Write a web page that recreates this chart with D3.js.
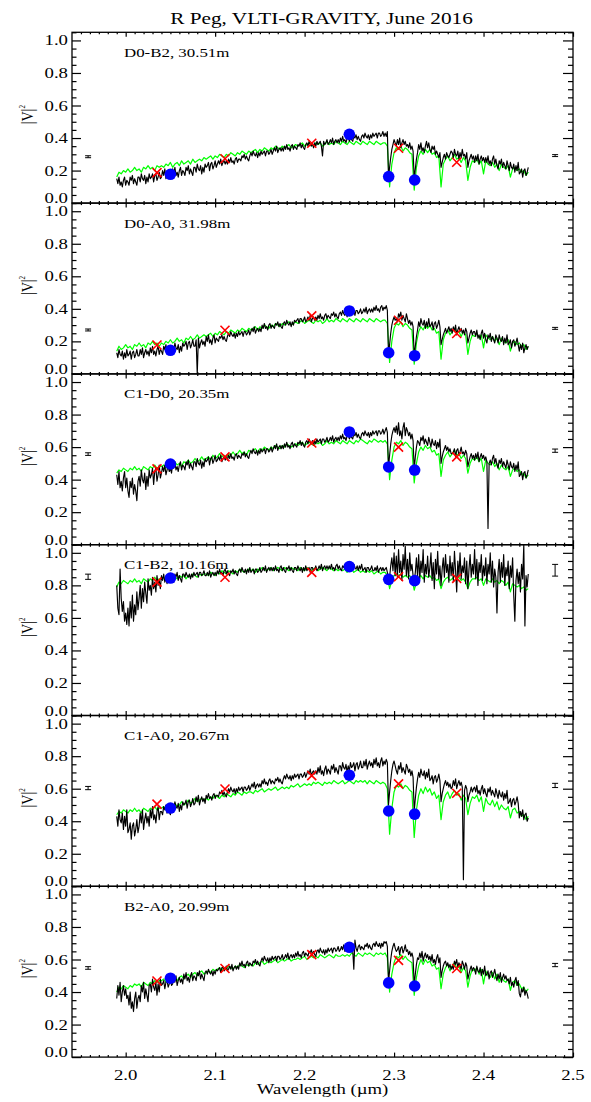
<!DOCTYPE html>
<html><head><meta charset="utf-8">
<script src="https://cdn.jsdelivr.net/npm/d3@7"></script>
<style>
body{margin:0;background:#fff;}
text{font-family:"Liberation Serif","DejaVu Serif",serif;fill:#000;}
</style></head><body>
<svg id="chart" width="591" height="1102"></svg>
<script>
// ---------------- DATA ----------------
const chartTitle = "R Peg, VLTI-GRAVITY, June 2016";
const xAxisTitle = "Wavelength (\u00B5m)";
const baselineLabels = ["D0-B2, 30.51m","D0-A0, 31.98m","C1-D0, 20.35m","C1-B2, 10.16m","C1-A0, 20.67m","B2-A0, 20.99m"];
const xTickLabels = [2.0, 2.1, 2.2, 2.3, 2.4, 2.5];
const yTickLabels = [0.0, 0.2, 0.4, 0.6, 0.8, 1.0];
// sampling grids of the spectra (micron)
const obsWlStart = 1.99, obsWlStep = 0.00125;   // observed spectra
const modWlStart = 1.99, modWlStep = 0.0025;    // model spectra

// observed |V|^2 spectra (black), in percent
const obsPctD0B2 = [
15,12,16,11,13,10,14,16,11,14, 13,11,16,14,17,12,15,13,11,16, 16,13,18,15,14,17,12,16,13,18, 15,16,18,13,17,18,14,16,19,15,
16,20,17,21,15,18,20,17,19,16, 21,18,22,17,19,16,20,22,17,20, 19,17,22,20,23,18,21,19,17,22, 22,19,24,21,20,23,18,22,19,24,
22,23,25,20,24,25,21,23,26,22, 24,26,24,27,23,25,26,24,26,24, 27,25,28,25,26,24,27,28,25,27, 27,26,29,28,30,27,29,27,26,29,
31,29,32,30,29,31,28,31,29,32, 30,31,32,29,32,32,30,31,33,30, 32,34,32,35,31,33,34,32,34,32, 35,33,36,33,34,32,35,36,33,35,
34,33,36,35,37,34,36,34,33,36, 37,35,38,36,35,37,34,37,35,38, 36,37,38,35,29,38,36,37,39,36, 37,39,37,40,36,38,39,37,39,37,
40,38,41,38,39,37,40,41,38,40, 39,38,41,40,42,39,41,39,38,41, 42,40,43,41,40,42,39,42,40,43, 41,42,43,40,43,43,41,42,44,41,
43,41,44,16,22,28,33,36,39,37, 35,39,36,40,34,37,39,36,38,35, 36,34,37,33,35,32,15,21,27,31, 36,33,37,32,34,31,35,38,34,37,
33,31,35,33,35,30,32,30,28,31, 22,25,28,30,27,31,29,28,30,32, 31,28,33,30,29,32,27,31,28,33, 29,30,27,31,22,26,28,30,27,29,
25,29,26,30,24,27,29,26,28,25, 28,25,29,24,26,23,27,29,24,27, 23,21,26,24,27,22,25,23,21,26, 23,20,25,22,21,24,19,23,20,25,
18,19,21,16,20,21,17,19,22];
const obsPctD0A0 = [
13,10,15,12,11,14,9,13,10,15, 11,12,14,9,13,14,10,12,15,11, 11,15,12,16,10,13,15,12,14,11, 16,13,17,12,14,11,15,17,12,15,
14,12,17,15,18,13,16,14,12,17, 17,14,19,16,15,18,13,17,14,19, 17,18,20,15,19,20,16,18,21,17, 17,21,0,22,16,19,21,18,20,17,
23,20,24,19,21,18,22,24,19,22, 21,20,23,22,24,21,23,21,20,23, 25,23,26,24,23,25,22,25,23,26, 24,25,26,23,26,26,24,25,27,24,
26,28,26,29,25,27,28,26,28,26, 30,28,31,28,29,27,30,31,28,30, 29,28,31,30,32,29,31,29,28,31, 32,30,33,31,30,32,29,32,30,33,
32,33,34,31,34,34,32,33,35,32, 33,35,33,36,32,34,35,33,35,33, 36,34,37,34,35,33,36,37,34,36, 35,34,37,36,38,35,37,35,34,37,
38,36,39,37,36,38,35,38,36,39, 37,38,39,36,39,39,37,38,40,37, 38,40,38,41,37,39,40,38,40,38, 41,39,42,39,40,38,41,42,39,41,
40,42,39,12,18,25,30,33,35,33, 34,32,37,35,38,33,36,34,32,37, 34,31,33,30,32,29,11,17,23,27, 32,29,34,31,30,33,28,32,29,34,
29,30,32,27,31,32,28,30,33,29, 18,21,24,26,28,25,27,29,26,28, 25,29,26,30,24,27,29,26,28,25, 27,24,28,26,19,22,25,27,24,26,
26,23,27,22,24,21,25,27,22,25, 21,19,24,22,25,20,23,21,19,24, 22,19,24,21,20,23,18,22,19,24, 18,19,21,16,20,21,17,19,22,18,
14,18,15,19,13,16,18,15,17];
const obsPctC1D0 = [
43,37,45,35,39,33,41,45,35,41, 33,29,39,35,41,31,37,33,27,39, 42,36,46,40,38,44,34,42,36,46, 41,43,47,37,45,47,39,43,49,41,
44,48,45,49,43,46,48,45,47,44, 50,47,51,46,48,45,49,51,46,49, 48,46,51,49,52,47,50,48,46,51, 51,48,53,50,49,52,47,51,48,53,
51,52,54,49,53,54,50,52,55,51, 52,54,52,55,51,53,54,52,54,52, 55,53,56,53,54,52,55,56,53,55, 54,53,56,55,57,54,56,54,53,56,
58,56,59,57,56,58,55,58,56,59, 57,58,59,56,59,59,57,58,60,57, 59,61,59,62,58,60,61,59,61,59, 62,60,63,60,61,59,62,63,60,62,
61,60,63,62,64,61,63,61,60,63, 64,62,65,63,62,64,61,64,62,65, 63,64,65,62,65,65,63,64,66,63, 64,66,64,67,63,65,66,64,66,64,
67,65,68,65,66,64,67,68,65,67, 66,65,68,67,69,66,68,66,65,68, 69,67,70,68,67,69,66,69,67,70, 68,69,70,67,70,70,68,69,71,68,
70,72,69,47,55,62,67,70,72,69, 73,68,75,67,70,65,72,75,67,72, 70,67,69,65,68,64,46,54,60,64, 63,61,66,64,67,62,65,63,61,66,
63,60,65,62,61,64,59,63,60,65, 50,54,57,59,61,58,60,57,59,56, 56,57,59,54,58,59,55,57,60,56, 57,55,58,56,48,51,54,56,53,55,
52,56,53,57,51,54,56,53,55,52, 54,51,10,50,52,49,53,55,50,53, 49,47,52,50,53,48,51,49,47,52, 49,46,51,48,47,50,45,49,46,51,
42,43,45,40,44,45,41,43,46];
const obsPctC1B2 = [
80,66,62,90,72,64,70,58,63,56, 66,55,70,60,74,58,68,62,76,65, 72,80,66,78,70,82,75,69,84,77, 80,74,85,78,82,76,86,80,83,78,
86,83,87,82,84,81,85,87,82,85, 84,82,87,85,88,83,86,84,82,87, 87,85,88,86,85,87,84,87,85,88, 86,87,88,85,88,88,86,87,89,86,
86,88,86,89,85,87,88,86,88,86, 89,87,90,87,88,86,89,90,87,89, 87,86,89,88,90,87,89,87,86,89, 90,88,91,89,88,90,87,90,88,91,
88,89,90,87,90,90,88,89,91,88, 89,91,89,92,88,90,91,89,91,89, 91,89,92,89,90,88,91,92,89,91, 89,88,91,90,92,89,91,89,88,91,
91,89,92,90,89,91,88,91,89,92, 89,90,91,88,91,91,89,90,92,89, 90,92,90,93,89,91,92,90,92,90, 92,90,93,90,91,89,92,93,90,92,
90,89,92,91,93,90,92,90,89,92, 92,90,93,91,90,92,89,92,90,93, 89,90,91,88,91,91,89,90,92,89, 89,91,89,92,88,90,91,89,91,89,
90,91,88,82,85,92,97,89,100,86, 98,85,102,88,95,83,99,90,104,86, 96,84,100,89,93,86,82,88,97,85, 99,84,95,88,102,82,93,87,98,85,
91,100,83,94,78,96,87,101,84,92, 80,90,97,85,99,88,93,82,98,86, 94,83,101,89,76,95,86,100,84,92, 88,97,81,95,78,90,99,85,93,87,
102,84,96,80,94,88,99,83,92,86, 97,81,93,87,100,82,95,79,90,85, 63,88,96,82,94,85,99,80,91,86, 95,78,92,85,97,74,58,83,90,81,
88,76,93,84,105,55,86,79,87];
const obsPctC1A0 = [
43,37,47,41,39,45,35,43,37,47, 33,35,39,29,37,39,31,35,41,33, 37,45,39,47,35,41,45,39,43,37, 47,42,49,41,44,39,46,49,41,46,
46,44,49,47,50,45,48,46,44,49, 50,47,52,49,48,51,46,50,47,52, 50,51,53,48,52,53,49,51,54,50, 51,55,52,56,50,53,55,52,54,51,
56,54,57,54,55,53,56,57,54,56, 56,55,58,57,59,56,58,56,55,58, 60,58,61,59,58,60,57,60,58,61, 59,60,61,58,61,61,59,60,62,59,
61,63,61,64,60,62,63,61,63,61, 65,63,66,63,64,62,65,66,63,65, 64,63,66,65,67,64,66,64,63,66, 68,66,69,67,66,68,65,68,66,69,
67,68,69,66,69,69,67,68,70,67, 69,71,69,72,68,70,71,69,71,69, 73,70,74,69,71,68,72,74,69,72, 71,69,74,72,75,70,73,71,69,74,
74,71,76,73,72,75,70,74,71,76, 73,74,76,71,75,76,72,74,77,73, 73,77,74,78,72,75,77,74,76,73, 78,75,79,74,76,73,77,79,74,77,
75,78,76,50,58,65,71,75,77,74, 71,69,74,72,76,70,73,71,69,75, 73,70,72,68,71,67,46,54,61,66, 70,67,72,69,68,71,66,70,67,72,
65,66,68,63,67,68,64,66,69,65, 52,57,60,63,65,62,64,61,63,60, 61,65,62,66,60,63,65,62,64,61, 4,59,62,60,52,56,58,61,58,60,
61,58,62,57,59,56,60,62,57,60, 57,55,60,58,61,56,59,57,55,60, 57,54,59,56,55,58,53,57,54,59, 51,52,54,49,53,54,50,52,55,51,
42,46,43,47,41,44,45,40,42];
const obsPctB2A0 = [
36,44,38,46,34,40,44,38,42,36, 38,32,40,30,34,28,36,40,30,36, 38,34,44,40,46,36,42,38,34,44, 45,40,48,43,41,46,38,45,40,48,
44,45,47,42,46,47,43,45,48,44, 45,49,46,50,44,47,49,46,48,45, 51,48,52,47,49,46,50,52,47,50, 49,47,52,50,53,48,51,49,47,52,
53,51,54,52,51,53,50,53,51,54, 53,54,55,52,55,55,53,54,56,53, 54,56,54,57,53,55,56,54,56,54, 58,56,59,56,57,55,58,59,56,58,
57,56,59,58,60,57,59,57,56,59, 61,59,62,60,59,61,58,61,59,62, 60,61,62,59,62,62,60,61,63,60, 61,63,61,64,60,62,63,61,63,61,
64,62,65,62,63,61,64,65,62,64, 63,62,65,64,66,63,65,63,62,65, 66,64,67,65,64,66,63,66,64,67, 65,66,67,64,67,67,65,66,68,65,
66,68,66,69,65,67,68,66,68,66, 68,66,54,72,67,65,68,69,66,68, 67,66,69,68,70,67,69,67,66,69, 70,68,71,69,68,70,67,70,68,71,
70,71,68,46,53,60,65,68,70,67, 65,66,68,63,67,68,64,66,69,65, 66,63,65,62,64,61,44,51,57,61, 60,64,61,65,59,62,64,61,63,60,
62,59,63,58,60,57,61,63,58,61, 49,53,56,58,59,56,58,55,57,54, 56,54,59,57,60,55,58,56,54,59, 57,54,58,56,48,51,54,56,53,55,
54,51,56,53,52,55,50,54,51,56, 50,51,53,48,52,53,49,51,54,50, 47,51,48,52,46,49,51,48,50,47, 48,45,49,44,46,43,47,49,44,47,
39,37,42,40,43,38,41,39,36];

// model |V|^2 spectra (green)
const modD0B2 = [
0.16,0.19,0.18,0.20,0.19,0.21,0.19,0.20,0.22,0.20,0.21,0.19,0.22,0.21,0.23,0.21,0.22,0.20,0.23,0.22,
0.23,0.22,0.24,0.23,0.25,0.22,0.24,0.25,0.23,0.26,0.24,0.25,0.26,0.24,0.27,0.25,0.26,0.27,0.26,0.28,
0.27,0.28,0.29,0.27,0.29,0.28,0.30,0.29,0.28,0.30,0.29,0.31,0.30,0.29,0.31,0.30,0.32,0.31,0.30,0.32,
0.31,0.32,0.33,0.31,0.33,0.32,0.34,0.33,0.32,0.34,0.33,0.35,0.34,0.33,0.35,0.34,0.35,0.36,0.34,0.35,
0.36,0.35,0.36,0.37,0.35,0.36,0.37,0.36,0.35,0.37,0.36,0.37,0.35,0.36,0.38,0.36,0.37,0.36,0.38,0.37,
0.36,0.38,0.37,0.36,0.38,0.37,0.36,0.38,0.37,0.36,0.38,0.37,0.36,0.38,0.37,0.36,0.38,0.37,0.36,0.37,
0.37,0.35,0.10,0.24,0.31,0.34,0.33,0.35,0.32,0.34,0.33,0.31,0.30,0.08,0.22,0.29,0.32,0.30,0.33,0.31,
0.33,0.30,0.31,0.28,0.29,0.10,0.24,0.27,0.29,0.26,0.28,0.30,0.27,0.28,0.25,0.28,0.26,0.14,0.22,0.26,
0.25,0.27,0.24,0.26,0.18,0.26,0.24,0.23,0.25,0.22,0.24,0.20,0.24,0.22,0.21,0.23,0.16,0.21,0.22,0.20,
0.21,0.19,0.20,0.17,0.19];
const modD0A0 = [
0.14,0.17,0.15,0.16,0.18,0.16,0.17,0.15,0.18,0.17,0.19,0.17,0.18,0.16,0.19,0.18,0.20,0.18,0.19,0.17,
0.19,0.18,0.20,0.19,0.21,0.19,0.20,0.22,0.20,0.21,0.19,0.22,0.21,0.23,0.21,0.22,0.24,0.22,0.23,0.24,
0.23,0.24,0.25,0.23,0.25,0.24,0.26,0.25,0.24,0.26,0.25,0.27,0.26,0.25,0.27,0.26,0.28,0.27,0.26,0.28,
0.27,0.28,0.29,0.27,0.29,0.28,0.30,0.29,0.28,0.30,0.29,0.31,0.30,0.29,0.31,0.30,0.31,0.32,0.30,0.31,
0.32,0.31,0.32,0.33,0.31,0.32,0.33,0.32,0.31,0.33,0.32,0.33,0.31,0.32,0.34,0.32,0.33,0.32,0.34,0.33,
0.32,0.34,0.33,0.32,0.34,0.33,0.32,0.34,0.33,0.32,0.34,0.33,0.32,0.34,0.33,0.32,0.34,0.33,0.32,0.33,
0.33,0.31,0.07,0.20,0.28,0.31,0.30,0.32,0.29,0.31,0.30,0.28,0.27,0.06,0.19,0.26,0.29,0.27,0.30,0.28,
0.30,0.27,0.28,0.25,0.26,0.09,0.21,0.25,0.27,0.24,0.26,0.28,0.25,0.26,0.23,0.26,0.24,0.12,0.20,0.24,
0.23,0.25,0.22,0.24,0.16,0.24,0.22,0.21,0.23,0.20,0.22,0.18,0.22,0.20,0.19,0.21,0.14,0.19,0.20,0.18,
0.19,0.17,0.18,0.15,0.17];
const modC1D0 = [
0.44,0.46,0.45,0.47,0.46,0.45,0.47,0.46,0.48,0.46,0.47,0.45,0.48,0.47,0.46,0.48,0.47,0.49,0.47,0.48,
0.48,0.49,0.47,0.50,0.48,0.49,0.51,0.49,0.50,0.48,0.51,0.50,0.52,0.50,0.51,0.53,0.51,0.52,0.54,0.52,
0.53,0.54,0.52,0.55,0.53,0.54,0.56,0.54,0.55,0.53,0.56,0.55,0.57,0.55,0.56,0.58,0.56,0.57,0.55,0.58,
0.57,0.58,0.59,0.57,0.59,0.58,0.60,0.59,0.58,0.60,0.59,0.61,0.60,0.59,0.61,0.60,0.62,0.61,0.60,0.61,
0.62,0.61,0.62,0.63,0.61,0.62,0.63,0.62,0.61,0.63,0.62,0.63,0.61,0.62,0.64,0.62,0.63,0.62,0.64,0.63,
0.62,0.64,0.63,0.62,0.64,0.63,0.62,0.64,0.63,0.65,0.64,0.63,0.62,0.64,0.63,0.65,0.64,0.63,0.64,0.63,
0.64,0.62,0.40,0.52,0.60,0.63,0.62,0.64,0.61,0.63,0.62,0.60,0.59,0.38,0.50,0.57,0.60,0.58,0.61,0.59,
0.60,0.57,0.58,0.55,0.56,0.42,0.52,0.55,0.57,0.54,0.56,0.58,0.55,0.56,0.53,0.55,0.53,0.44,0.50,0.53,
0.52,0.54,0.51,0.53,0.45,0.52,0.50,0.49,0.51,0.48,0.50,0.46,0.49,0.47,0.46,0.48,0.42,0.46,0.47,0.45,
0.46,0.43,0.44,0.41,0.43];
const modC1B2 = [
0.79,0.82,0.81,0.83,0.82,0.81,0.83,0.82,0.84,0.82,0.83,0.81,0.84,0.83,0.82,0.84,0.83,0.85,0.83,0.84,
0.84,0.85,0.83,0.85,0.84,0.86,0.85,0.84,0.86,0.85,0.86,0.84,0.86,0.85,0.87,0.86,0.85,0.87,0.86,0.87,
0.87,0.86,0.88,0.87,0.86,0.88,0.87,0.89,0.88,0.87,0.89,0.88,0.87,0.89,0.88,0.90,0.89,0.88,0.89,0.90,
0.89,0.90,0.88,0.90,0.89,0.91,0.90,0.89,0.90,0.91,0.89,0.90,0.91,0.90,0.89,0.91,0.90,0.89,0.91,0.90,
0.90,0.89,0.91,0.90,0.89,0.91,0.90,0.89,0.90,0.91,0.89,0.90,0.91,0.90,0.89,0.91,0.90,0.89,0.90,0.89,
0.90,0.89,0.90,0.88,0.89,0.90,0.88,0.89,0.90,0.88,0.89,0.88,0.89,0.88,0.89,0.87,0.88,0.89,0.87,0.88,
0.88,0.86,0.78,0.83,0.86,0.87,0.86,0.87,0.85,0.86,0.85,0.86,0.84,0.77,0.82,0.85,0.86,0.84,0.86,0.85,
0.86,0.84,0.85,0.83,0.84,0.78,0.82,0.84,0.85,0.83,0.84,0.86,0.84,0.85,0.83,0.84,0.82,0.78,0.82,0.84,
0.84,0.85,0.83,0.84,0.80,0.84,0.83,0.82,0.84,0.82,0.83,0.81,0.83,0.82,0.80,0.82,0.76,0.81,0.80,0.79,
0.80,0.78,0.79,0.77,0.78];
const modC1A0 = [
0.44,0.46,0.45,0.47,0.46,0.45,0.47,0.46,0.48,0.46,0.47,0.45,0.48,0.47,0.46,0.48,0.47,0.49,0.47,0.48,
0.48,0.49,0.47,0.50,0.48,0.49,0.51,0.49,0.50,0.52,0.50,0.51,0.53,0.51,0.52,0.54,0.52,0.53,0.54,0.53,
0.54,0.53,0.55,0.54,0.56,0.55,0.54,0.56,0.55,0.57,0.56,0.55,0.57,0.56,0.58,0.57,0.56,0.58,0.57,0.58,
0.58,0.57,0.59,0.58,0.59,0.60,0.58,0.59,0.60,0.59,0.60,0.61,0.59,0.60,0.61,0.60,0.61,0.60,0.62,0.61,
0.62,0.63,0.61,0.62,0.63,0.62,0.63,0.62,0.64,0.63,0.64,0.63,0.62,0.64,0.63,0.64,0.63,0.65,0.64,0.63,
0.64,0.65,0.63,0.64,0.65,0.64,0.63,0.65,0.64,0.65,0.64,0.65,0.63,0.65,0.64,0.63,0.65,0.64,0.63,0.64,
0.63,0.60,0.32,0.48,0.58,0.62,0.61,0.63,0.60,0.62,0.61,0.59,0.58,0.30,0.47,0.56,0.60,0.57,0.61,0.58,
0.60,0.56,0.58,0.54,0.56,0.41,0.52,0.56,0.58,0.54,0.57,0.59,0.56,0.57,0.53,0.56,0.54,0.44,0.51,0.55,
0.54,0.56,0.52,0.55,0.46,0.54,0.51,0.50,0.53,0.49,0.52,0.47,0.50,0.48,0.47,0.49,0.42,0.47,0.48,0.45,
0.46,0.43,0.44,0.41,0.43];
const modB2A0 = [
0.40,0.43,0.42,0.44,0.43,0.42,0.44,0.43,0.45,0.44,0.45,0.43,0.46,0.45,0.44,0.46,0.45,0.47,0.46,0.47,
0.47,0.48,0.46,0.48,0.47,0.49,0.48,0.47,0.49,0.50,0.48,0.50,0.51,0.49,0.51,0.52,0.50,0.52,0.53,0.51,
0.52,0.53,0.52,0.54,0.53,0.54,0.55,0.53,0.55,0.54,0.56,0.55,0.54,0.56,0.55,0.57,0.56,0.55,0.57,0.56,
0.57,0.56,0.58,0.57,0.58,0.59,0.57,0.58,0.59,0.58,0.59,0.60,0.58,0.59,0.60,0.59,0.60,0.61,0.59,0.60,
0.60,0.61,0.60,0.61,0.62,0.60,0.61,0.62,0.61,0.62,0.61,0.63,0.62,0.61,0.62,0.63,0.62,0.61,0.63,0.62,
0.62,0.63,0.62,0.63,0.62,0.64,0.63,0.62,0.64,0.63,0.62,0.64,0.63,0.64,0.63,0.62,0.64,0.63,0.64,0.63,
0.64,0.61,0.40,0.51,0.58,0.62,0.61,0.63,0.60,0.62,0.60,0.59,0.58,0.38,0.49,0.56,0.60,0.57,0.60,0.58,
0.59,0.56,0.57,0.54,0.55,0.42,0.51,0.55,0.57,0.53,0.56,0.58,0.55,0.56,0.52,0.55,0.53,0.43,0.50,0.54,
0.53,0.55,0.51,0.54,0.45,0.53,0.50,0.49,0.52,0.48,0.51,0.46,0.49,0.47,0.46,0.48,0.41,0.46,0.47,0.44,
0.45,0.42,0.43,0.40,0.42];

// red crosses and blue dots
const crossWl = [2.035, 2.111, 2.208, 2.305, 2.370];
const crossD0B2 = [0.187, 0.273, 0.368, 0.337, 0.251];
const crossD0A0 = [0.178, 0.268, 0.357, 0.330, 0.248];
const crossC1D0 = [0.466, 0.540, 0.625, 0.600, 0.540];
const crossC1B2 = [0.820, 0.850, 0.880, 0.853, 0.843];
const crossC1A0 = [0.505, 0.598, 0.680, 0.630, 0.572];
const crossB2A0 = [0.468, 0.545, 0.630, 0.595, 0.545];
const dotWl = [2.050, 2.250, 2.294, 2.323];
const dotD0B2 = [0.177, 0.423, 0.163, 0.142];
const dotD0A0 = [0.145, 0.387, 0.130, 0.112];
const dotC1D0 = [0.496, 0.693, 0.478, 0.459];
const dotC1B2 = [0.845, 0.915, 0.837, 0.829];
const dotC1A0 = [0.481, 0.683, 0.463, 0.444];
const dotB2A0 = [0.485, 0.675, 0.456, 0.437];

// representative error bars (left and right of each panel)
const errWl = [1.958, 2.48];
const errLeftVal  = [0.285, 0.270, 0.557, 0.853, 0.604, 0.548];
const errLeftSig  = [0.006, 0.006, 0.008, 0.016, 0.010, 0.008];
const errRightVal = [0.292, 0.280, 0.578, 0.893, 0.620, 0.566];
const errRightSig = [0.006, 0.006, 0.010, 0.036, 0.013, 0.010];

// ---------------- DRAW ----------------
const pctToVis = p => p / 100;
const obsList = [obsPctD0B2, obsPctD0A0, obsPctC1D0, obsPctC1B2, obsPctC1A0, obsPctB2A0].map(a => a.map(pctToVis));
const modList = [modD0B2, modD0A0, modC1D0, modC1B2, modC1A0, modB2A0];
const crossList = [crossD0B2, crossD0A0, crossC1D0, crossC1B2, crossC1A0, crossB2A0];
const dotList = [dotD0B2, dotD0A0, dotC1D0, dotC1B2, dotC1A0, dotB2A0];
const panels = baselineLabels.map((label, k) => ({
  label, obs: obsList[k], mod: modList[k], cross: crossList[k], dot: dotList[k],
  errL: [errLeftVal[k], errLeftSig[k]], errR: [errRightVal[k], errRightSig[k]]
}));

const svg = d3.select("#chart");
const L = 72, R = 573, T0 = 32.3, PH = 170.8;
const SX = 1.25; // horizontal text stretch
const x = d3.scaleLinear().domain([1.94, 2.5]).range([L, R]);
const obsWl = d3.range(obsPctD0B2.length).map(i => obsWlStart + i * obsWlStep);
const modWl = d3.range(modD0B2.length).map(i => modWlStart + i * modWlStep);
const xMinor = d3.range(195, 251).map(v => v / 100).filter(v => Math.round(v * 100) % 10 !== 0);
const yMinor = d3.range(0, 22).map(v => v * 0.05).filter(v => Math.round(v * 100) % 20 !== 0);

function stext(g, tx, ty, str, size, anchor) {
  return g.append("text")
    .attr("transform", `translate(${tx},${ty}) scale(${SX},1)`)
    .attr("text-anchor", anchor).attr("font-size", size).text(str);
}
function styleAxis(s) {
  s.select(".domain").remove();
  s.selectAll(".tick line").attr("stroke", "#000").attr("stroke-width", 1.2);
  s.selectAll(".tick text").remove();
}

stext(svg, 321.5, 24, chartTitle, 17, "middle");

panels.forEach((p, k) => {
  const top = T0 + k * PH, bot = top + PH;
  const y = d3.scaleLinear().domain([0, 1.05]).range([bot, top]);
  const g = svg.append("g");

  // ticks
  g.append("g").attr("transform", `translate(${L},0)`)
    .call(d3.axisLeft(y).tickValues(yTickLabels).tickSize(-9)).call(styleAxis);
  g.append("g").attr("transform", `translate(${L},0)`)
    .call(d3.axisLeft(y).tickValues(yMinor).tickSize(-4.5)).call(styleAxis);
  g.append("g").attr("transform", `translate(${R},0)`)
    .call(d3.axisRight(y).tickValues(yTickLabels).tickSize(-10)).call(styleAxis);
  g.append("g").attr("transform", `translate(${R},0)`)
    .call(d3.axisRight(y).tickValues(yMinor).tickSize(-5)).call(styleAxis);
  g.append("g").attr("transform", `translate(0,${bot})`)
    .call(d3.axisBottom(x).tickValues(xTickLabels).tickSize(-4.5)).call(styleAxis);
  g.append("g").attr("transform", `translate(0,${bot})`)
    .call(d3.axisBottom(x).tickValues(xMinor).tickSize(-2)).call(styleAxis);
  g.append("g").attr("transform", `translate(0,${top})`)
    .call(d3.axisTop(x).tickValues(xTickLabels).tickSize(-4.5)).call(styleAxis);
  g.append("g").attr("transform", `translate(0,${top})`)
    .call(d3.axisTop(x).tickValues(xMinor).tickSize(-2)).call(styleAxis);

  // y tick labels
  yTickLabels.forEach(v => {
    const yy = v === 0 ? y(v) - 5 : y(v);
    stext(g, L - 4, yy + 5, d3.format(".1f")(v), 15, "end");
  });
  // y title
  const yt = g.append("text").attr("transform", `translate(33,${(top + bot) / 2 - 3}) rotate(-90) scale(1,1.15)`)
    .attr("text-anchor", "middle").attr("font-size", 14);
  yt.append("tspan").text("|V|");
  yt.append("tspan").attr("font-size", 7).attr("dy", -7).text("2");

  // baseline label
  stext(g, 124, top + 24.5, p.label, 13.5, "start");

  // spectra
  const modLine = d3.line().x((d, i) => x(modWl[i])).y(d => y(d));
  const obsLine = d3.line().x((d, i) => x(obsWl[i])).y(d => y(d));
  g.append("path").datum(p.mod).attr("d", modLine).attr("fill", "none")
    .attr("stroke", "#00ff00").attr("stroke-width", 1.2).attr("stroke-linejoin", "round");
  g.append("path").datum(p.obs).attr("d", obsLine).attr("fill", "none")
    .attr("stroke", "#000").attr("stroke-width", 1.15).attr("stroke-linejoin", "round");

  // error bars
  [[errWl[0], p.errL], [errWl[1], p.errR]].forEach(([w, [v, s]]) => {
    const ex = x(w);
    const eg = g.append("g").attr("stroke", "#000").attr("stroke-width", 1);
    eg.append("line").attr("x1", ex).attr("x2", ex).attr("y1", y(v - s)).attr("y2", y(v + s));
    eg.append("line").attr("x1", ex - 3).attr("x2", ex + 3).attr("y1", y(v - s)).attr("y2", y(v - s));
    eg.append("line").attr("x1", ex - 3).attr("x2", ex + 3).attr("y1", y(v + s)).attr("y2", y(v + s));
  });

  // blue dots
  g.selectAll(".dot").data(p.dot).enter().append("circle")
    .attr("cx", (d, i) => x(dotWl[i])).attr("cy", d => y(d)).attr("r", 5.8).attr("fill", "#0000ff");
  // red crosses
  const cr = 4.5;
  g.selectAll(".cross").data(p.cross).enter().append("path")
    .attr("d", (d, i) => {
      const cx = x(crossWl[i]), cy = y(d);
      return `M${cx - cr},${cy - cr}L${cx + cr},${cy + cr}M${cx - cr},${cy + cr}L${cx + cr},${cy - cr}`;
    })
    .attr("stroke", "#ff0000").attr("stroke-width", 1.6).attr("fill", "none");

  // frame
  g.append("rect").attr("x", L).attr("y", top).attr("width", R - L).attr("height", PH)
    .attr("fill", "none").attr("stroke", "#000").attr("stroke-width", 1.3);

  // x labels on last panel
  if (k === panels.length - 1) {
    xTickLabels.forEach(v => stext(g, x(v), bot + 22.5, d3.format(".1f")(v), 15, "middle"));
    stext(g, (L + R) / 2, bot + 37, xAxisTitle, 15, "middle");
  }
});
</script>
</body></html>
